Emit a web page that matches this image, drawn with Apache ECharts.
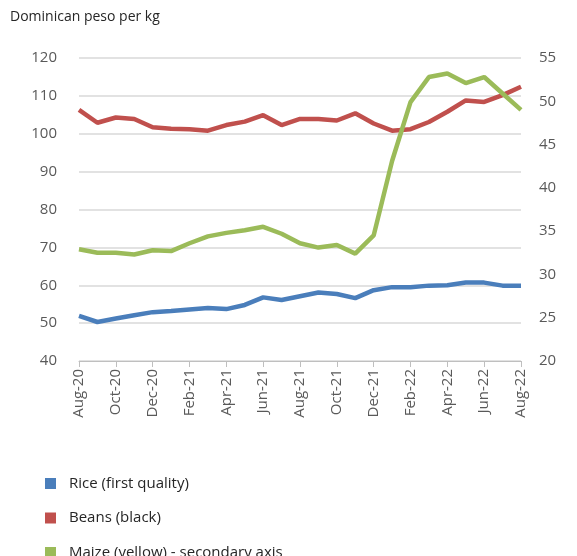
<!DOCTYPE html>
<html>
<head>
<meta charset="utf-8">
<script src="https://cdn.jsdelivr.net/npm/echarts@6/dist/echarts.min.js"></script>
<style>
  html, body { margin: 0; padding: 0; background: #fff; }
  #chart { width: 577px; height: 556px; }
</style>
</head>
<body>
<div id="chart"></div>
<script>
// months Aug-20 .. Aug-22
var months = ["Aug-20", "Sep-20", "Oct-20", "Nov-20", "Dec-20", "Jan-21", "Feb-21", "Mar-21",
  "Apr-21", "May-21", "Jun-21", "Jul-21", "Aug-21", "Sep-21", "Oct-21", "Nov-21", "Dec-21",
  "Jan-22", "Feb-22", "Mar-22", "Apr-22", "May-22", "Jun-22", "Jul-22", "Aug-22"];

// left axis
var rice = [51.9, 50.3, 51.2, 52.1, 52.9, 53.2, 53.6, 54.0, 53.7, 54.8, 56.8, 56.1, 57.1,
  58.1, 57.7, 56.6, 58.7, 59.5, 59.5, 59.9, 60.0, 60.7, 60.7, 59.9, 59.9];
var beans = [106.3, 102.9, 104.3, 103.9, 101.7, 101.3, 101.2, 100.8, 102.3, 103.2, 104.9, 102.3, 103.9,
  103.9, 103.5, 105.4, 102.7, 100.8, 101.2, 103.1, 105.8, 108.8, 108.4, 110.2, 112.4];
// right axis
var maize = [32.9, 32.5, 32.5, 32.3, 32.8, 32.7, 33.6, 34.4, 34.8, 35.1, 35.5, 34.7, 33.6,
  33.1, 33.4, 32.4, 34.5, 43.1, 49.9, 52.8, 53.2, 52.1, 52.8, 50.9, 49.0];

var seriesNames = ["Rice (first quality)", "Beans (black)", "Maize (yellow) - secondary axis"];
var colors = ["#4a7ebb", "#c0504d", "#9bbb59"];

var chart = echarts.init(document.getElementById("chart"));

var axisText = { color: "#595959", fontSize: 15, fontFamily: "Open Sans" };

// one legend per row so they stack like the original
var legends = seriesNames.map(function (n, i) {
  return {
    left: 40,
    top: 471 + i * 34.5,
    itemWidth: 11,
    itemHeight: 11,
    icon: "rect",
    textStyle: { color: "#262626", fontSize: 15, fontFamily: "Open Sans", padding: [0, 0, 0, 8] },
    data: [n]
  };
});

var option = {
  animation: false,
  color: colors,
  grid: { left: 79, right: 56, top: 58, bottom: 195 },
  graphic: [{
    type: "text",
    left: 10,
    top: 10,
    style: { text: "Dominican peso per kg", fill: "#262626", fontSize: 14, fontFamily: "Open Sans" }
  }],
  legend: legends,
  xAxis: {
    type: "category",
    data: months,
    boundaryGap: false,
    axisLine: { lineStyle: { color: "#bfbfbf" } },
    axisTick: { interval: 1, length: 6, lineStyle: { color: "#bfbfbf" } },
    axisLabel: Object.assign({ interval: 1, rotate: 90, margin: 8 }, axisText)
  },
  yAxis: [{
    type: "value",
    min: 40, max: 120, interval: 10,
    axisLine: { show: false },
    axisTick: { show: false },
    axisLabel: Object.assign({ margin: 22 }, axisText),
    splitLine: { lineStyle: { color: "#d9d9d9", width: 1.5 } }
  }, {
    type: "value",
    min: 20, max: 55, interval: 5,
    axisLine: { show: false },
    axisTick: { show: false },
    axisLabel: Object.assign({ margin: 18 }, axisText),
    splitLine: { show: false }
  }],
  series: [
    { name: seriesNames[0], type: "line", data: rice, yAxisIndex: 0, symbol: "none", lineStyle: { width: 4.5 } },
    { name: seriesNames[1], type: "line", data: beans, yAxisIndex: 0, symbol: "none", lineStyle: { width: 4.5 } },
    { name: seriesNames[2], type: "line", data: maize, yAxisIndex: 1, symbol: "none", lineStyle: { width: 4.5 } }
  ]
};

chart.setOption(option);
</script>
</body>
</html>
